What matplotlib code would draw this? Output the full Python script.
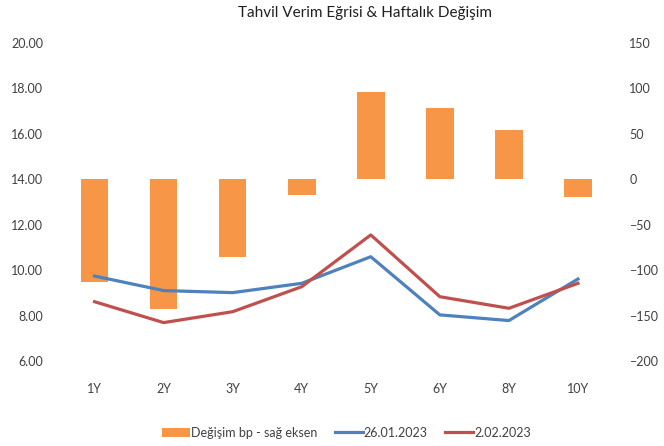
import numpy as np
from matplotlib import pyplot as plt

plt.rcParams.update({"font.family": ["Lato", "DejaVu Sans"], "font.size": 9})

tenors = ["1Y", "2Y", "3Y", "4Y", "5Y", "6Y", "8Y", "10Y"]
yield_0126 = [9.74, 9.10, 9.01, 9.42, 10.59, 8.03, 7.78, 9.61]
yield_0202 = [8.61, 7.69, 8.17, 9.27, 11.55, 8.83, 8.32, 9.42]
change_bp = [-113, -143, -85, -17, 96, 79, 54, -19]

orange = "#F79646"
blue = "#4F81BD"
red = "#C0504D"
text_col = "#404040"

fig = plt.figure(figsize=(6.64, 4.46), dpi=100)
ax = fig.add_axes([0.0904, 0.1906, 0.832, 0.713])
ax2 = ax.twinx()

x = np.arange(len(tenors))

# bars on the right (secondary) axis, lines on the left one
bars = ax2.bar(x, change_bp, width=0.4, color=orange, label="Değişim bp - sağ eksen")
l1, = ax.plot(x, yield_0126, color=blue, lw=2.3, label="26.01.2023")
l2, = ax.plot(x, yield_0202, color=red, lw=2.3, label="2.02.2023")

# keep lines in front of the bars
ax.set_zorder(ax2.get_zorder() + 1)
ax.patch.set_visible(False)

ax.set_xlim(-0.5, len(tenors) - 0.5)
ax.set_ylim(6, 20)
ax.set_yticks(np.arange(6, 21, 2))
ax.set_yticklabels([f"{v:.2f}" for v in np.arange(6, 21, 2)])
ax2.set_ylim(-200, 150)
ax2.set_yticks(np.arange(-200, 151, 50))

ax.set_xticks(x)
ax.set_xticklabels(tenors)

for a in (ax, ax2):
    for s in a.spines.values():
        s.set_visible(False)
    a.tick_params(length=0, colors=text_col, labelsize=9)
ax.tick_params(axis="x", pad=16)
ax.tick_params(axis="y", pad=12)
ax2.tick_params(axis="y", pad=12)

fig.text(0.55, 0.97, "Tahvil Verim Eğrisi & Haftalık Değişim", ha="center", va="center",
         fontsize=11, color="#202020")

fig.legend([bars, l1, l2], [bars.get_label(), l1.get_label(), l2.get_label()],
           loc="center", bbox_to_anchor=(0.522, 0.03), ncol=3, frameon=False,
           fontsize=9, handlelength=2.2, handletextpad=0.1, columnspacing=1.4,
           labelcolor=text_col)

fig.savefig("out.png", dpi=100)
